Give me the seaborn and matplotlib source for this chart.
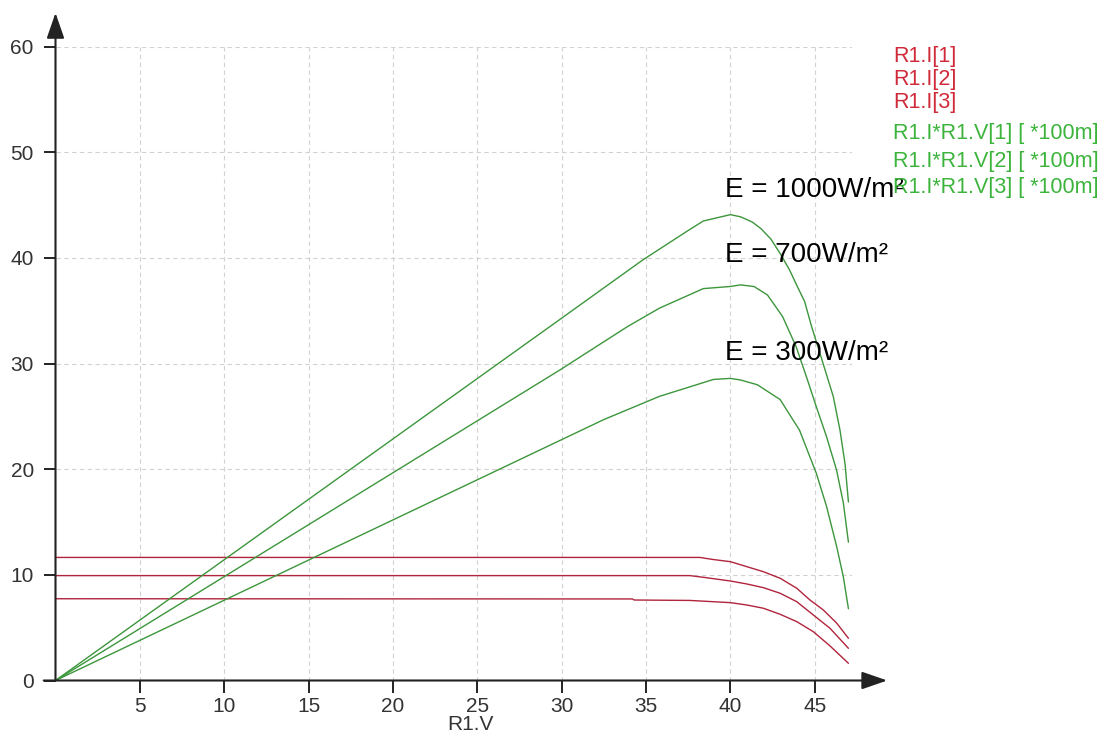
import matplotlib
matplotlib.use("Agg")
import matplotlib.pyplot as plt
import numpy as np
import pandas as pd
import seaborn as sns

# ---------------- data ----------------
v_i1 = [0, 38.2, 39.0, 40.0, 40.97, 41.96, 42.95, 43.94, 44.72, 45.51, 46.31, 47.0]
i1 = [11.65, 11.65, 11.45, 11.25, 10.78, 10.30, 9.68, 8.73, 7.62, 6.68, 5.42, 4.0]

v_i2 = [0, 37.6, 38.5, 40.0, 40.97, 41.96, 42.95, 43.94, 44.92, 45.91, 47.0]
i2 = [9.93, 9.93, 9.75, 9.42, 9.14, 8.79, 8.26, 7.46, 6.20, 4.94, 3.05]

v_i3 = [0, 34.2, 34.3, 37.6, 40.0, 40.97, 41.96, 42.95, 43.94, 44.92, 45.91, 47.0]
i3 = [7.74, 7.72, 7.62, 7.58, 7.37, 7.15, 6.84, 6.27, 5.57, 4.62, 3.27, 1.63]

v_p1 = [0, 30.0, 34.8, 37.5, 38.4, 40.0, 40.6, 41.3, 41.8, 42.4, 43.0, 43.5,
        44.0, 44.4, 44.8, 45.5, 46.1, 46.5, 46.8, 47.0]
p1 = [0, 34.3, 39.8, 42.6, 43.5, 44.1, 43.9, 43.4, 42.8, 41.8, 40.3, 38.9,
      37.2, 35.9, 33.6, 30.0, 26.9, 23.7, 20.5, 16.9]

v_p2 = [0, 29.9, 33.9, 35.8, 38.4, 40.0, 40.6, 41.4, 42.2, 43.1, 43.9, 44.5,
        45.1, 45.7, 46.3, 46.7, 47.0]
p2 = [0, 29.4, 33.5, 35.25, 37.1, 37.3, 37.45, 37.3, 36.5, 34.45, 31.6, 28.8,
      25.9, 23.1, 19.9, 16.8, 13.1]

v_p3 = [0, 32.5, 35.8, 39.0, 40.0, 40.6, 41.6, 42.95, 44.1, 45.1, 45.7, 46.3, 46.7, 47.0]
p3 = [0, 24.7, 26.9, 28.5, 28.6, 28.45, 28.0, 26.6, 23.7, 19.6, 16.5, 12.7, 9.8, 6.8]

legend_labels = ["R1.I[1]", "R1.I[2]", "R1.I[3]",
                 "R1.I*R1.V[1] [ *100m]", "R1.I*R1.V[2] [ *100m]", "R1.I*R1.V[3] [ *100m]"]
annot_labels = ["E = 1000W/m²", "E = 700W/m²", "E = 300W/m²"]
annot_y = [45.8, 39.66, 30.35]
annot_x = 39.69

x_ticks = [5, 10, 15, 20, 25, 30, 35, 40, 45]
y_ticks = [0, 10, 20, 30, 40, 50, 60]
x_label = "R1.V"

# ---------------- style ----------------
sns.set_theme(style="white")
plt.rcParams["font.family"] = ["Liberation Sans", "DejaVu Sans"]

RED_LINE = "#b0243c"
GREEN_LINE = "#3c963c"
RED_TXT = "#d02a3a"
GREEN_TXT = "#3cb43c"
AX_COL = "#222222"

series = [
    (legend_labels[0], v_i1, i1, RED_LINE),
    (legend_labels[1], v_i2, i2, RED_LINE),
    (legend_labels[2], v_i3, i3, RED_LINE),
    (legend_labels[3], v_p1, p1, GREEN_LINE),
    (legend_labels[4], v_p2, p2, GREEN_LINE),
    (legend_labels[5], v_p3, p3, GREEN_LINE),
]
frames = []
for name, vx, vy, col in series:
    frames.append(pd.DataFrame({"series": name, "V": vx, "val": vy}))
df = pd.concat(frames, ignore_index=True)

W, H = 1105, 738
fig = plt.figure(figsize=(W / 100, H / 100), dpi=100)
ax = fig.add_axes([55.5 / W, 57.5 / H, 796.3 / W, 633.8 / H])

for name, vx, vy, col in series:
    sns.lineplot(data=df[df["series"] == name], x="V", y="val", ax=ax,
                 color=col, lw=1.0, sort=False, estimator=None, legend=False)

ax.set_xlim(0, 47.2)
ax.set_ylim(0, 60)
ax.set_xticks(x_ticks)
ax.set_yticks(y_ticks)
for s in ax.spines.values():
    s.set_visible(False)

ax.grid(True, linestyle=(0, (4, 3)), color="#d2d2d2", lw=0.8)
ax.set_axisbelow(True)

ax.tick_params(axis="both", length=8.6, width=1.4, color=AX_COL,
               labelsize=15, labelcolor="#333333")
ax.tick_params(axis="y", pad=7)
ax.tick_params(axis="x", pad=3)
ax.tick_params(axis="both", which="both", bottom=True, left=True)

ax.set_xlabel(x_label, fontsize=15, color="#333333")
ax.set_ylabel("")
ax.xaxis.set_label_coords(24.6 / 47.2, -0.054)

# axis lines with arrow heads
arrow_kw = dict(arrowstyle="-|>,head_length=1.3,head_width=0.45",
                color=AX_COL, lw=1.5, shrinkA=0, shrinkB=0)
ax.annotate("", xy=(0, 63.2), xytext=(0, 0), arrowprops=arrow_kw,
            annotation_clip=False)
ax.annotate("", xy=(49.3, 0), xytext=(-0.7, 0), arrowprops=arrow_kw,
            annotation_clip=False)

# irradiance annotations
for lab, yy in zip(annot_labels, annot_y):
    ax.text(annot_x, yy, lab, fontsize=20, color="black", ha="left",
            va="baseline", clip_on=False)

# legend texts
leg_base_px = [61.7, 85.0, 108.3, 139.5, 166.5, 193.5]
for i, (lab, base) in enumerate(zip(legend_labels, leg_base_px)):
    col = RED_TXT if i < 3 else GREEN_TXT
    fig.text(893 / W, 1 - base / H, lab, fontsize=15.5, color=col,
             ha="left", va="baseline")

fig.savefig("out.png", dpi=100)
